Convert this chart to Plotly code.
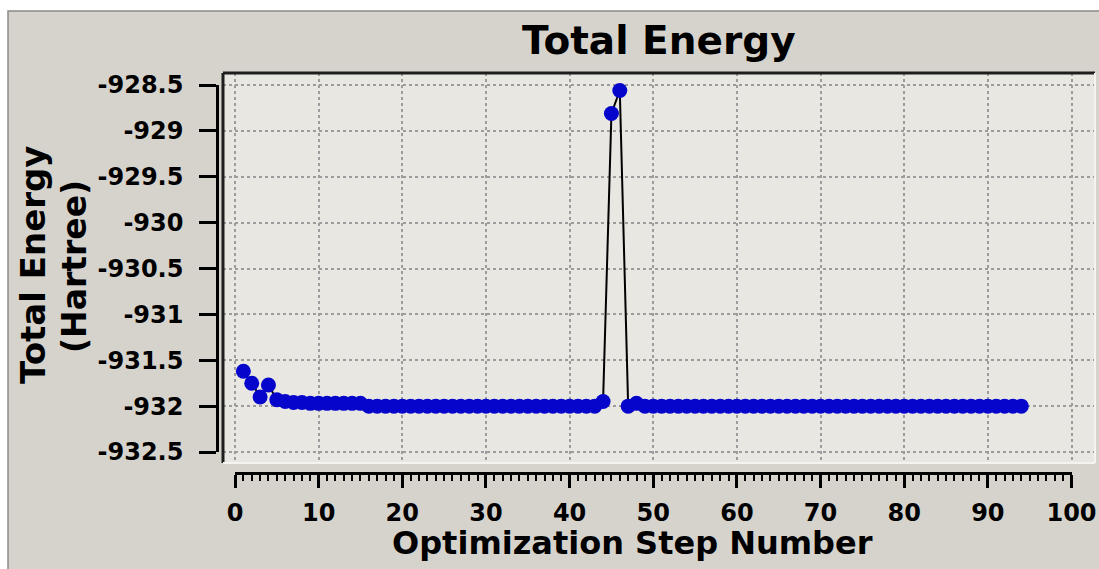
import plotly.graph_objects as go

W, H = 1099, 569

# ---- data ----
steps = [
    1, 2, 3, 4, 5, 6, 7, 8, 9, 10, 11, 12, 13, 14, 15, 16, 17, 18, 19, 20,
    21, 22, 23, 24, 25, 26, 27, 28, 29, 30, 31, 32, 33, 34, 35, 36, 37, 38, 39, 40,
    41, 42, 43, 44, 45, 46, 47, 48, 49, 50, 51, 52, 53, 54, 55, 56, 57, 58, 59, 60,
    61, 62, 63, 64, 65, 66, 67, 68, 69, 70, 71, 72, 73, 74, 75, 76, 77, 78, 79, 80,
    81, 82, 83, 84, 85, 86, 87, 88, 89, 90, 91, 92, 93, 94,
]
energy = [
    -931.62, -931.75, -931.90, -931.77, -931.93, -931.95, -931.96, -931.96, -931.97, -931.97,
    -931.97, -931.97, -931.97, -931.97, -931.97, -932.00, -932.00, -932.00, -932.00, -932.00,
    -932.00, -932.00, -932.00, -932.00, -932.00, -932.00, -932.00, -932.00, -932.00, -932.00,
    -932.00, -932.00, -932.00, -932.00, -932.00, -932.00, -932.00, -932.00, -932.00, -932.00,
    -932.00, -932.00, -932.00, -931.95, -928.81, -928.56, -932.00, -931.97, -932.00, -932.00,
    -932.00, -932.00, -932.00, -932.00, -932.00, -932.00, -932.00, -932.00, -932.00, -932.00,
    -932.00, -932.00, -932.00, -932.00, -932.00, -932.00, -932.00, -932.00, -932.00, -932.00,
    -932.00, -932.00, -932.00, -932.00, -932.00, -932.00, -932.00, -932.00, -932.00, -932.00,
    -932.00, -932.00, -932.00, -932.00, -932.00, -932.00, -932.00, -932.00, -932.00, -932.00,
    -932.00, -932.00, -932.00, -932.00,
]
x_ticks = [0, 10, 20, 30, 40, 50, 60, 70, 80, 90, 100]
y_ticks = [-932.5, -932, -931.5, -931, -930.5, -930, -929.5, -929, -928.5]
y_tick_labels = ["-932.5", "-932", "-931.5", "-931", "-930.5", "-930", "-929.5", "-929", "-928.5"]

title_text = "Total Energy"
x_title = "Optimization Step Number"
y_title_1 = "Total Energy"
y_title_2 = "(Hartree)"

# ---- geometry helpers (pixel -> paper) ----
def px(x):
    return x / W

def py(y):
    return 1 - y / H

FONT = "DejaVu Sans"
OUTER_BG = "#d6d3cd"
PLOT_BG = "#e9e7e1"
GRID = "#9c9c9c"

# plot box pixels
L, R, T, B = 223, 1095, 73, 463
# x axis ruler pixels
X0PX, X100PX, XAXIS_Y = 235, 1071.5, 473
# y axis ruler pixels
YTOP_PX, YBOT_PX, YAXIS_X = 85, 452, 217

xpp = (X100PX - X0PX) / 100.0
ypp = (YBOT_PX - YTOP_PX) / 4.0

x_range = [(L - X0PX) / xpp, (R - X0PX) / xpp]
y_range = [-932.5 - (B - YBOT_PX) / ypp, -928.5 + (YTOP_PX - T) / ypp]

fig = go.Figure()

fig.add_trace(go.Scatter(
    x=steps, y=energy, mode="lines+markers",
    line=dict(color="black", width=2),
    marker=dict(color="#0505cc", size=15, line=dict(width=0)),
    xaxis="x", yaxis="y", showlegend=False, hoverinfo="x+y",
))
# dummy trace so the detached ruler axes get drawn
fig.add_trace(go.Scatter(x=[None], y=[None], xaxis="x2", yaxis="y2",
                         showlegend=False, hoverinfo="skip"))

tickfont = dict(family=FONT, size=24, color="black", weight="bold")

fig.update_layout(
    width=W, height=H,
    margin=dict(l=0, r=0, t=0, b=0, pad=0, autoexpand=False),
    paper_bgcolor="white",
    plot_bgcolor="rgba(0,0,0,0)",
    showlegend=False,
    xaxis=dict(
        domain=[px(L), px(R)], range=x_range, automargin=False,
        tickvals=x_ticks, showticklabels=False, ticks="",
        showgrid=True, gridcolor=GRID, gridwidth=1.5, griddash="dot",
        zeroline=False, showline=False, anchor="y",
    ),
    yaxis=dict(
        domain=[py(B), py(T)], range=y_range, automargin=False,
        tickvals=y_ticks, showticklabels=False, ticks="",
        showgrid=True, gridcolor=GRID, gridwidth=1.5, griddash="dot",
        zeroline=False, showline=False, anchor="x",
    ),
    xaxis2=dict(
        domain=[px(X0PX), px(X100PX)], range=[0, 100], automargin=False,
        anchor="free", position=py(XAXIS_Y),
        tickvals=x_ticks, ticks="outside", ticklen=13, tickwidth=2.5, tickcolor="black",
        minor=dict(dtick=1, tick0=0, ticks="outside", ticklen=6, tickwidth=1.5,
                   tickcolor="black", showgrid=False),
        showline=True, linecolor="black", linewidth=2.5,
        showgrid=False, zeroline=False, tickfont=tickfont, ticklabelstandoff=4,
    ),
    yaxis2=dict(
        domain=[py(YBOT_PX), py(YTOP_PX)], range=[-932.5, -928.5], automargin=False,
        anchor="free", position=px(YAXIS_X),
        tickvals=y_ticks, ticktext=y_tick_labels,
        ticks="outside", ticklen=17, tickwidth=2.5, tickcolor="black",
        showline=True, linecolor="black", linewidth=2.5,
        showgrid=False, zeroline=False, tickfont=tickfont, ticklabelstandoff=11,
    ),
)

shapes = [
    # outer panel
    dict(type="rect", xref="paper", yref="paper", x0=px(8), x1=1.02, y0=-0.02, y1=py(11),
         fillcolor=OUTER_BG, line=dict(color="#8c8a86", width=1.5), layer="below"),
    # plot area
    dict(type="rect", xref="paper", yref="paper", x0=px(L), x1=px(R), y0=py(B), y1=py(T),
         fillcolor=PLOT_BG, line=dict(width=0), layer="below"),
    # sunken frame: dark top and left, light bottom and right
    dict(type="line", xref="paper", yref="paper", x0=px(L), x1=px(R), y0=py(T), y1=py(T),
         line=dict(color="#1e1e1e", width=3), layer="above"),
    dict(type="line", xref="paper", yref="paper", x0=px(L), x1=px(L), y0=py(B), y1=py(T),
         line=dict(color="#1e1e1e", width=3), layer="above"),
    dict(type="line", xref="paper", yref="paper", x0=px(L), x1=px(R), y0=py(B), y1=py(B),
         line=dict(color="#f4f3ef", width=2), layer="above"),
    dict(type="line", xref="paper", yref="paper", x0=px(R), x1=px(R), y0=py(B), y1=py(T),
         line=dict(color="#f4f3ef", width=2), layer="above"),
]
fig.update_layout(shapes=shapes)

annotations = [
    dict(text=title_text, x=px(659), y=py(40), xref="paper", yref="paper",
         xanchor="center", yanchor="middle", showarrow=False,
         font=dict(family=FONT, size=39, color="black", weight="bold")),
    dict(text=x_title, x=px(632), y=py(543), xref="paper", yref="paper",
         xanchor="center", yanchor="middle", showarrow=False,
         font=dict(family=FONT, size=32, color="black", weight="bold")),
    dict(text=y_title_1, x=px(33), y=py(265), xref="paper", yref="paper",
         xanchor="center", yanchor="middle", showarrow=False, textangle=-90,
         font=dict(family=FONT, size=34, color="black", weight="bold")),
    dict(text=y_title_2, x=px(74), y=py(267), xref="paper", yref="paper",
         xanchor="center", yanchor="middle", showarrow=False, textangle=-90,
         font=dict(family=FONT, size=33, color="black", weight="bold")),
]
fig.update_layout(annotations=annotations)

fig.write_html("out.html")
